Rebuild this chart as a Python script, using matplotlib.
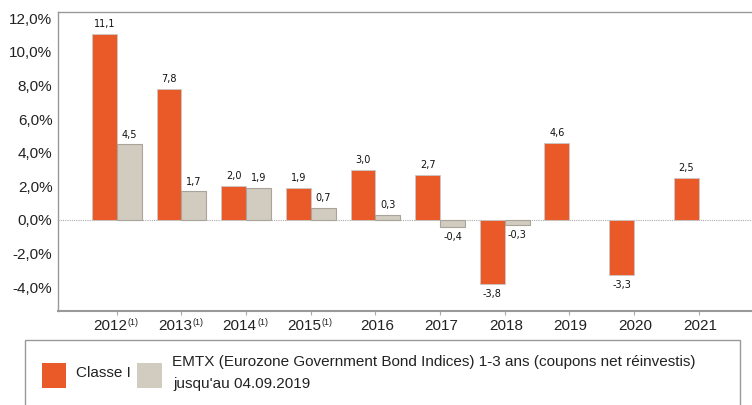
import matplotlib
matplotlib.use("Agg")
import matplotlib.pyplot as plt
from matplotlib.patches import Rectangle
import numpy as np

years = ["2012", "2013", "2014", "2015", "2016", "2017", "2018", "2019", "2020", "2021"]
footnote = [True, True, True, True, False, False, False, False, False, False]
classe_i = [11.1, 7.8, 2.0, 1.9, 3.0, 2.7, -3.8, 4.6, -3.3, 2.5]
emtx = [4.5, 1.7, 1.9, 0.7, 0.3, -0.4, -0.3, None, None, None]
yticks = [-4, -2, 0, 2, 4, 6, 8, 10, 12]

ORANGE = "#E95A28"
GREY = "#D1CBC0"
GREY_EDGE = "#A8A49B"
TXT = "#222222"

plt.rcParams["font.family"] = ["Liberation Sans", "DejaVu Sans"]

fig = plt.figure(figsize=(7.52, 4.05), dpi=100)
ax = fig.add_axes([58/752, 1-311/405, (760-58)/752, (311-12)/405])

x = np.arange(len(years))
w = 0.385
ax.bar(x - w/2, classe_i, w, color=ORANGE, edgecolor="#C8C8C8", linewidth=0.6, zorder=3)
mask = np.array([v is not None for v in emtx])
ev = np.array([v if v is not None else 0 for v in emtx], dtype=float)
ax.bar(x[mask] + w/2, ev[mask], w, color=GREY, edgecolor=GREY_EDGE, linewidth=0.8, zorder=3)

def fmt(v):
    return f"{v:.1f}".replace(".", ",")

def label(xp, v):
    ax.annotate(fmt(v), (xp, v), xytext=(0, 3.5 if v >= 0 else -3.5), textcoords="offset points",
                ha="center", va="bottom" if v >= 0 else "top", fontsize=7, family="DejaVu Sans",
                color="#111111")

for xi, v in zip(x, classe_i):
    label(xi - w/2, v)
for xi, v in zip(x, emtx):
    if v is not None:
        label(xi + w/2, v)

ax.axhline(0, color="#AAAAAA", linestyle=(0, (1, 1)), linewidth=0.8, zorder=2)

ax.set_ylim(-5.42, 12.38)
ax.set_xlim(-0.91, 9.95)
ax.set_yticks(yticks)
ax.set_yticklabels([f"{t:.1f}%".replace(".", ",") for t in yticks], fontsize=11, color=TXT)
ax.set_xticks(x)
ax.set_xticklabels([])
ax.tick_params(axis="y", length=0, pad=4)
ax.tick_params(axis="x", length=3, color="#AAAAAA", direction="out")

for xi, yr, fn in zip(x, years, footnote):
    if fn:
        ax.annotate(yr, (xi, 0), xycoords=("data", "axes fraction"), xytext=(7.6, -5.5),
                    textcoords="offset points", ha="right", va="top", fontsize=11, color=TXT)
        ax.annotate("(1)", (xi, 0), xycoords=("data", "axes fraction"), xytext=(7.9, -5.3),
                    textcoords="offset points", ha="left", va="top", fontsize=6.5, color=TXT)
    else:
        ax.annotate(yr, (xi, 0), xycoords=("data", "axes fraction"), xytext=(1, -5.5),
                    textcoords="offset points", ha="center", va="top", fontsize=11, color=TXT)

for s in ["left", "top", "bottom"]:
    ax.spines[s].set_color("#999999")
    ax.spines[s].set_linewidth(1.0)
ax.spines["right"].set_visible(False)
ax.spines["bottom"].set_linewidth(1.5)

# legend box
fig.patches.append(Rectangle((25/752, -0.02), (740-25)/752, (405-340)/405 + 0.02,
                             transform=fig.transFigure, fill=False, edgecolor="#999999", linewidth=1.0))
fig.patches.append(Rectangle((42/752, 1-388/405), 24/752, 25/405, transform=fig.transFigure,
                             facecolor=ORANGE, edgecolor="none"))
fig.patches.append(Rectangle((137/752, 1-388/405), 25/752, 25/405, transform=fig.transFigure,
                             facecolor=GREY, edgecolor="none"))
fig.text(76/752, 1-373/405, "Classe I", fontsize=11, va="center", ha="left", color=TXT)
fig.text(172/752, 1-362/405, "EMTX (Eurozone Government Bond Indices) 1-3 ans (coupons net réinvestis)",
         fontsize=11, va="center", ha="left", color=TXT)
fig.text(173/752, 1-384/405, "jusqu'au 04.09.2019", fontsize=11, va="center", ha="left", color=TXT)

fig.savefig("out.png", dpi=100)
